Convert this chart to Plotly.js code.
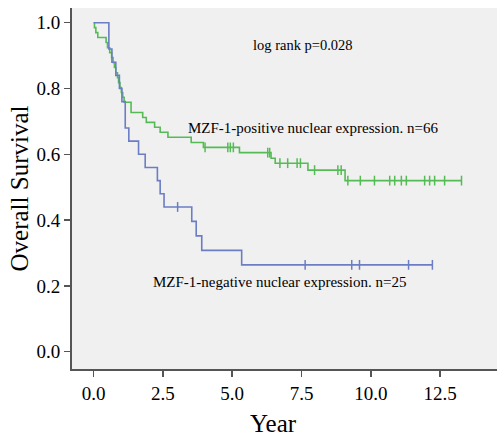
<!DOCTYPE html>
<html>
<head>
<meta charset="utf-8">
<script src="https://cdn.plot.ly/plotly-3.0.1.min.js"></script>
<style>html,body{margin:0;padding:0;background:#fff;}#chart{width:497px;height:437px;}</style>
</head>
<body>
<div id="chart"></div>
<script>
// Kaplan-Meier steps (time in years, survival after the event)
const posTimes = [0, 0.03, 0.08, 0.15, 0.45, 0.50, 0.58, 0.65, 0.70, 0.75, 0.80, 0.86, 0.90, 0.95, 1.00, 1.05, 1.10, 1.35, 1.77, 1.90, 2.20, 2.40, 2.68, 3.52, 3.96, 5.26, 6.40, 6.55, 7.73, 9.07];
const posSurv  = [1.0, 0.985, 0.970, 0.955, 0.940, 0.924, 0.909, 0.894, 0.879, 0.864, 0.848, 0.833, 0.818, 0.803, 0.788, 0.773, 0.758, 0.727, 0.712, 0.697, 0.682, 0.667, 0.652, 0.636, 0.621, 0.605, 0.588, 0.573, 0.552, 0.520];
const posCensor = [4.02, 4.84, 4.93, 5.04, 6.28, 6.35, 6.72, 7.00, 7.34, 7.46, 7.97, 8.81, 8.93, 9.17, 9.62, 10.13, 10.68, 10.86, 11.10, 11.28, 11.94, 12.12, 12.30, 12.66, 13.27];

const negTimes = [0, 0.55, 0.66, 0.80, 0.93, 1.02, 1.14, 1.27, 1.62, 1.86, 2.30, 2.40, 2.54, 3.54, 3.70, 3.90, 5.34];
const negSurv  = [1.0, 0.92, 0.88, 0.84, 0.80, 0.76, 0.68, 0.64, 0.60, 0.56, 0.52, 0.48, 0.44, 0.396, 0.352, 0.308, 0.264];
const negCensor = [3.03, 7.63, 9.31, 9.59, 11.36, 12.22];

const posLabel = 'MZF-1-positive nuclear expression. n=66';
const negLabel = 'MZF-1-negative nuclear expression. n=25';
const pLabel = 'log rank p=0.028';
const yTitle = 'Overall Survival';
const xTitle = 'Year';

const GREEN = '#55bb55';
const BLUE = '#6b7dc4';
const INK = '#000000';

function survAt(times, surv, t) {
  let s = surv[0];
  for (let i = 0; i < times.length; i++) { if (times[i] <= t) s = surv[i]; }
  return s;
}
function stepTrace(times, surv, censor, color) {
  const end = Math.max(times[times.length - 1], censor[censor.length - 1]);
  return {
    x: times.concat([end]), y: surv.concat([survAt(times, surv, end)]),
    mode: 'lines', line: {shape: 'hv', color: color, width: 1.6},
    hoverinfo: 'skip', showlegend: false
  };
}
function censorTrace(times, surv, censor, color) {
  return {
    x: censor, y: censor.map(t => survAt(times, surv, t)),
    mode: 'markers', marker: {symbol: 'line-ns-open', size: 7, color: color, line: {color: color, width: 1.5}},
    hoverinfo: 'skip', showlegend: false
  };
}

const data = [
  stepTrace(posTimes, posSurv, posCensor, GREEN),
  censorTrace(posTimes, posSurv, posCensor, GREEN),
  stepTrace(negTimes, negSurv, negCensor, BLUE),
  censorTrace(negTimes, negSurv, negCensor, BLUE)
];

const FONT = 'Liberation Serif, Times New Roman, serif';
const layout = {
  width: 497, height: 437,
  margin: {l: 72, r: 0, t: 8, b: 68},
  paper_bgcolor: '#ffffff', plot_bgcolor: '#f0f0f0',
  font: {family: FONT, color: INK},
  xaxis: {
    range: [-0.78, 14.55], tickvals: [0, 2.5, 5, 7.5, 10, 12.5], tickformat: '.1f',
    ticks: 'outside', ticklen: 6, tickwidth: 1.5, tickcolor: '#555',
    showline: true, linecolor: '#555', linewidth: 2, showgrid: false, zeroline: false,
    tickfont: {size: 19, family: FONT, color: INK}
  },
  yaxis: {
    range: [-0.0526, 1.0447], tickvals: [0, 0.2, 0.4, 0.6, 0.8, 1.0], tickformat: '.1f',
    ticks: 'outside', ticklen: 6, tickwidth: 1.5, tickcolor: '#555',
    showline: true, linecolor: '#555', linewidth: 2, showgrid: false, zeroline: false,
    tickfont: {size: 19, family: FONT, color: INK},
    title: {text: yTitle, font: {size: 25, family: FONT, color: INK}, standoff: 1}
  },
  annotations: [
    {x: 0.473, y: -0.15, xref: 'paper', yref: 'paper', text: xTitle, showarrow: false, xanchor: 'center', yanchor: 'middle', font: {size: 25, family: FONT, color: INK}},
    {x: 7.56, y: 0.932, xref: 'x', yref: 'y', text: pLabel, showarrow: false, xanchor: 'center', yanchor: 'middle', font: {size: 14.5, family: FONT, color: INK}},
    {x: 3.34, y: 0.681, xref: 'x', yref: 'y', text: posLabel, showarrow: false, xanchor: 'left', yanchor: 'middle', font: {size: 15, family: FONT, color: INK}},
    {x: 2.07, y: 0.212, xref: 'x', yref: 'y', text: negLabel, showarrow: false, xanchor: 'left', yanchor: 'middle', font: {size: 15, family: FONT, color: INK}}
  ]
};

Plotly.newPlot('chart', data, layout, {displayModeBar: false, staticPlot: true});
</script>
</body>
</html>
